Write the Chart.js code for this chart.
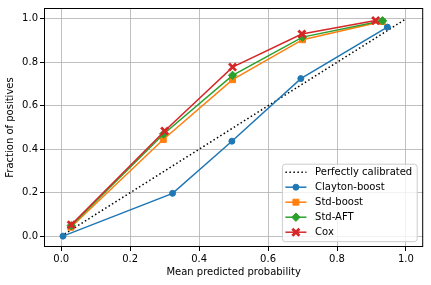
<!DOCTYPE html>
<html>
<head>
<meta charset="utf-8">
<script src="https://cdn.jsdelivr.net/npm/chart.js@4"></script>
<style>
  html, body { margin: 0; padding: 0; background: #fff; }
</style>
</head>
<body>
<canvas id="chart" width="431" height="285"></canvas>
<script>
// Calibration curves
const seriesNames = ['Clayton-boost', 'Std-boost', 'Std-AFT', 'Cox'];
const claytonX = [0.005, 0.323, 0.495, 0.695, 0.946];
const claytonY = [0.0, 0.197, 0.437, 0.725, 0.962];
const stdBoostX = [0.028, 0.296, 0.497, 0.700, 0.931];
const stdBoostY = [0.041, 0.445, 0.720, 0.904, 0.988];
const stdAftX = [0.029, 0.297, 0.497, 0.700, 0.932];
const stdAftY = [0.048, 0.470, 0.740, 0.916, 0.991];
const coxX = [0.029, 0.300, 0.497, 0.698, 0.912];
const coxY = [0.052, 0.484, 0.778, 0.930, 0.992];
const diagX = [0, 1];
const diagY = [0, 1];
const xTicks = [0, 0.2, 0.4, 0.6, 0.8, 1.0];
const yTicks = [0, 0.2, 0.4, 0.6, 0.8, 1.0];

Chart.defaults.font.family = 'DejaVu Sans';
Chart.defaults.font.size = 10;
Chart.defaults.color = '#000';

function points(xs, ys) {
  return xs.map((x, i) => ({ x: x, y: ys[i] }));
}

function curve(label, xs, ys, color, style, radius, order) {
  return {
    label: label,
    data: points(xs, ys),
    borderColor: color,
    backgroundColor: color,
    borderWidth: 1.5,
    pointStyle: style,
    pointRadius: radius,
    pointHoverRadius: radius,
    pointBorderWidth: style === 'crossRot' ? 2.8 : 1,
    pointBorderColor: color,
    pointBackgroundColor: color,
    order: order
  };
}

const datasets = [
  {
    label: 'Perfectly calibrated',
    data: points(diagX, diagY),
    borderColor: '#000',
    borderWidth: 1.5,
    borderDash: [1.5, 2.5],
    pointRadius: 0,
    order: 5
  },
  curve(seriesNames[0], claytonX, claytonY, '#1f77b4', 'circle', 3, 4),
  curve(seriesNames[1], stdBoostX, stdBoostY, '#ff7f0e', 'rect', 4.2, 3),
  curve(seriesNames[2], stdAftX, stdAftY, '#2ca02c', 'rectRot', 4.2, 2),
  curve(seriesNames[3], coxX, coxY, '#d62728', 'crossRot', 5, 1)
];

// Spines on all four sides plus a matplotlib-style legend inside the plot
const frameAndLegend = {
  id: 'frameAndLegend',
  afterDraw(chart) {
    const ctx = chart.ctx;
    const a = chart.chartArea;
    ctx.save();
    ctx.strokeStyle = '#000';
    ctx.lineWidth = 1;
    ctx.strokeRect(a.left + 0.5, a.top + 0.5, a.right - a.left - 1, a.bottom - a.top - 1);

    const sets = chart.data.datasets;
    ctx.font = '10px "DejaVu Sans"';
    let textW = 0;
    sets.forEach(ds => { textW = Math.max(textW, ctx.measureText(ds.label).width); });
    const rowH = 15;
    const boxW = 3 + 21 + 8.7 + textW + 5;
    const boxH = sets.length * rowH + 2.5;
    const boxR = a.right - 6;
    const boxB = a.bottom - 5.3;
    const boxL = boxR - boxW;
    const boxT = boxB - boxH;

    ctx.beginPath();
    ctx.roundRect(boxL, boxT, boxW, boxH, 3);
    ctx.fillStyle = 'rgba(255,255,255,0.8)';
    ctx.fill();
    ctx.strokeStyle = '#cccccc';
    ctx.stroke();

    sets.forEach((ds, i) => {
      const y = boxT + 8 + i * rowH;
      const x0 = boxL + 3;
      const x1 = x0 + 21;
      ctx.save();
      ctx.strokeStyle = ds.borderColor;
      ctx.lineWidth = ds.borderWidth;
      ctx.setLineDash(ds.borderDash || []);
      ctx.beginPath();
      ctx.moveTo(x0, y);
      ctx.lineTo(x1, y);
      ctx.stroke();
      ctx.restore();
      if (ds.pointRadius > 0) {
        ctx.save();
        ctx.fillStyle = ds.pointBackgroundColor;
        ctx.strokeStyle = ds.pointBorderColor;
        ctx.lineWidth = ds.pointBorderWidth;
        Chart.helpers.drawPoint(ctx, {
          pointStyle: ds.pointStyle,
          radius: ds.pointRadius,
          borderWidth: ds.pointBorderWidth,
          rotation: 0
        }, (x0 + x1) / 2, y);
        ctx.restore();
      }
      ctx.fillStyle = '#000';
      ctx.textAlign = 'left';
      ctx.textBaseline = 'middle';
      ctx.fillText(ds.label, x1 + 8.7, y);
    });
    ctx.restore();
  }
};

new Chart(document.getElementById('chart'), {
  type: 'line',
  data: { datasets: datasets },
  options: {
    responsive: false,
    devicePixelRatio: 1,
    animation: false,
    layout: { padding: { top: 7, right: 5, left: 0, bottom: 0 } },
    plugins: {
      legend: { display: false },
      tooltip: { enabled: false }
    },
    scales: {
      x: {
        type: 'linear',
        min: -0.05,
        max: 1.05,
        afterBuildTicks: s => { s.ticks = xTicks.map(v => ({ value: v })); },
        afterFit: s => { s.height = 38; },
        ticks: { callback: v => v.toFixed(1), padding: 2, maxRotation: 0 },
        grid: { color: '#b0b0b0', lineWidth: 0.8, tickLength: 4, tickColor: '#000', tickWidth: 1 },
        border: { display: false },
        title: { display: true, text: 'Mean predicted probability', padding: { top: 1, bottom: 7 } }
      },
      y: {
        type: 'linear',
        min: -0.05,
        max: 1.05,
        afterBuildTicks: s => { s.ticks = yTicks.map(v => ({ value: v })); },
        afterFit: s => { s.width = 44; },
        ticks: { callback: v => v.toFixed(1), padding: 2 },
        grid: { color: '#b0b0b0', lineWidth: 0.8, tickLength: 4, tickColor: '#000', tickWidth: 1 },
        border: { display: false },
        title: { display: true, text: 'Fraction of positives', padding: { top: 4, bottom: 2 } }
      }
    }
  },
  plugins: [frameAndLegend]
});
</script>
</body>
</html>
